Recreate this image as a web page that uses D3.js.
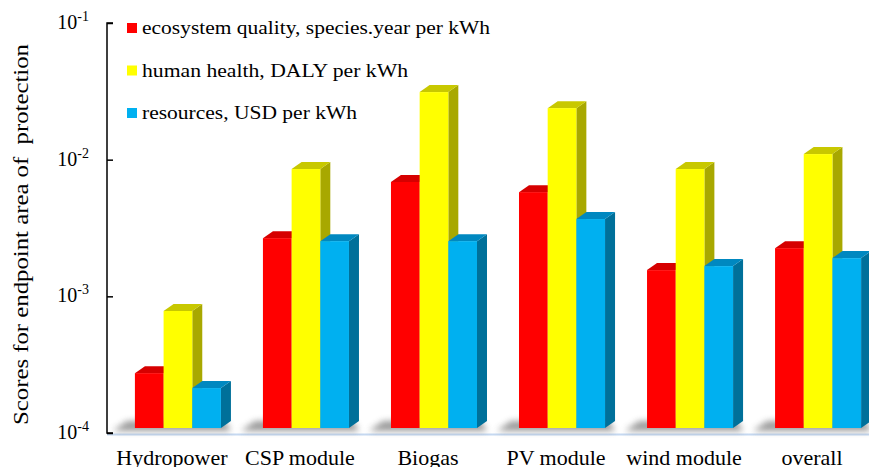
<html>
<head>
<meta charset="utf-8">
<script src="https://cdn.jsdelivr.net/npm/d3@7"></script>
</head>
<body style="margin:0">
<svg id="fig" width="869" height="467"></svg>
<script>
// Endpoint scores per kWh for each generation technology
const categories = ["Hydropower", "CSP module", "Biogas", "PV module", "wind module", "overall"];
const seriesNames = [
  "ecosystem quality, species.year per kWh",
  "human health, DALY per kWh",
  "resources, USD per kWh"
];
const ecosystemQuality = [2.52e-4, 2.45e-3, 6.31e-3, 5.32e-3, 1.43e-3, 2.07e-3];
const humanHealth      = [7.18e-4, 7.85e-3, 2.87e-2, 2.19e-2, 7.85e-3, 1.01e-2];
const resources        = [1.96e-4, 2.33e-3, 2.33e-3, 3.38e-3, 1.53e-3, 1.75e-3];
const tickValues = [1e-4, 1e-3, 1e-2, 1e-1];
const tickExponents = ["-4", "-3", "-2", "-1"];
const yTitle = "Scores for endpoint area of  protection";

const seriesValues = [ecosystemQuality, humanHealth, resources];
// front / top / side shades for each series
const palettes = [
  { front: "#ff0000", top: "#d60000", side: "#a00000" },
  { front: "#ffff00", top: "#c8c800", side: "#a8a800" },
  { front: "#00b0f0", top: "#0088c0", side: "#00709a" }
];
// rendered widths of the legend entries and the axis title
const legendWidths = [348, 266, 215];
const titleWidth = 381;
const serifFont = d => "\"Liberation Serif\"";

const svg = d3.select("#fig");
const axisX = 107;
const y = d3.scaleLog().domain([1e-4, 1e-1]).range([433, 23]);
const x = d3.scaleBand().domain(categories).range([107, 889])
  .paddingInner(0.328).paddingOuter(0.218);
const xs = d3.scaleBand().domain(d3.range(seriesNames.length)).range([0, x.bandwidth()]).padding(0);

// 3D extrusion offsets
const dx = 10, dy = 7, lift = 5;

const defs = svg.append("defs");
defs.append("filter").attr("id", "shadowBlur")
  .attr("x", "-20%").attr("y", "-100%").attr("width", "140%").attr("height", "300%")
  .append("feGaussianBlur").attr("stdDeviation", 3);

// floor line
svg.append("line")
  .attr("x1", axisX).attr("x2", 869)
  .attr("y1", y(1e-4) + 1.5).attr("y2", y(1e-4) + 1.5)
  .attr("stroke", "#c6d9f1").attr("stroke-width", 2);

// soft floor shadow under each group
svg.append("g").selectAll("path").data(categories).join("path")
  .attr("d", c => {
    const x0 = x(c), x1 = x(c) + x.bandwidth();
    const b = y(1e-4) - 2;
    return `M${x0 - 22},${b} L${x0 - 8},${b - 10} L${x1 + 4},${b - 10} L${x1 + 10},${b} Z`;
  })
  .attr("fill", "#7a7a7a").attr("opacity", 0.75)
  .attr("filter", "url(#shadowBlur)");

// bars
const groups = svg.append("g").selectAll("g").data(categories).join("g")
  .attr("transform", c => `translate(${x(c)},0)`);

groups.each(function (c, ci) {
  const g = d3.select(this);
  seriesValues.forEach((vals, si) => {
    const v = vals[ci];
    const x0 = xs(si), w = xs.bandwidth();
    const top = y(v) - lift, bottom = y(1e-4) - lift;
    const pal = palettes[si];
    // side face
    g.append("path")
      .attr("d", `M${x0 + w},${top} L${x0 + w + dx},${top - dy} L${x0 + w + dx},${bottom - dy} L${x0 + w},${bottom} Z`)
      .attr("fill", pal.side);
    // top face
    g.append("path")
      .attr("d", `M${x0},${top} L${x0 + dx},${top - dy} L${x0 + w + dx},${top - dy} L${x0 + w},${top} Z`)
      .attr("fill", pal.top);
    // front face
    g.append("rect")
      .attr("x", x0).attr("y", top)
      .attr("width", w).attr("height", bottom - top)
      .attr("fill", pal.front);
  });
});

// y axis
const yAxis = d3.axisRight(y).tickValues(tickValues).tickSize(6).tickFormat("");
const ya = svg.append("g").attr("transform", `translate(${axisX},0)`).call(yAxis);
ya.select(".domain").attr("stroke", "#000").attr("stroke-width", 1.5)
  .attr("d", `M6,${y(1e-1)}H0V${y(1e-4)}H6`);
ya.selectAll(".tick line").attr("stroke", "#000").attr("stroke-width", 1.5);

// tick labels as powers of ten
const tl = svg.selectAll("text.tick-label").data(tickValues).join("text")
  .attr("class", "tick-label")
  .attr("x", 89).attr("y", d => y(d) + 6)
  .attr("text-anchor", "end")
  .attr("font-size", 20)
  .style("font-family", serifFont);
tl.append("tspan").text("10");
tl.append("tspan").attr("dy", -8).attr("font-size", 14).text((d, i) => tickExponents[i]);

// category labels
svg.selectAll("text.cat-label").data(categories).join("text")
  .attr("class", "cat-label")
  .attr("x", c => x(c) + x.bandwidth() / 2 - 6)
  .attr("y", 465)
  .attr("text-anchor", "middle")
  .attr("font-size", 22)
  .style("font-family", serifFont)
  .text(c => c);

// y axis title
svg.selectAll("text.y-title").data([yTitle]).join("text")
  .attr("class", "y-title")
  .attr("transform", `translate(28,${(44 + 425) / 2}) rotate(-90)`)
  .attr("text-anchor", "middle")
  .attr("font-size", 22)
  .attr("textLength", titleWidth)
  .attr("lengthAdjust", "spacingAndGlyphs")
  .style("font-family", serifFont)
  .style("white-space", "pre")
  .text(d => d);

// legend
svg.selectAll("rect.legend-key").data(seriesNames).join("rect")
  .attr("class", "legend-key")
  .attr("x", 127).attr("y", (d, i) => 23 + i * 42.5)
  .attr("width", 10).attr("height", 10)
  .attr("fill", (d, i) => palettes[i].front);
svg.selectAll("text.legend-label").data(seriesNames).join("text")
  .attr("class", "legend-label")
  .attr("x", 142).attr("y", (d, i) => 34 + i * 42.5)
  .attr("font-size", 19)
  .attr("textLength", (d, i) => legendWidths[i])
  .attr("lengthAdjust", "spacingAndGlyphs")
  .style("font-family", serifFont)
  .text(d => d);
</script>
</body>
</html>
